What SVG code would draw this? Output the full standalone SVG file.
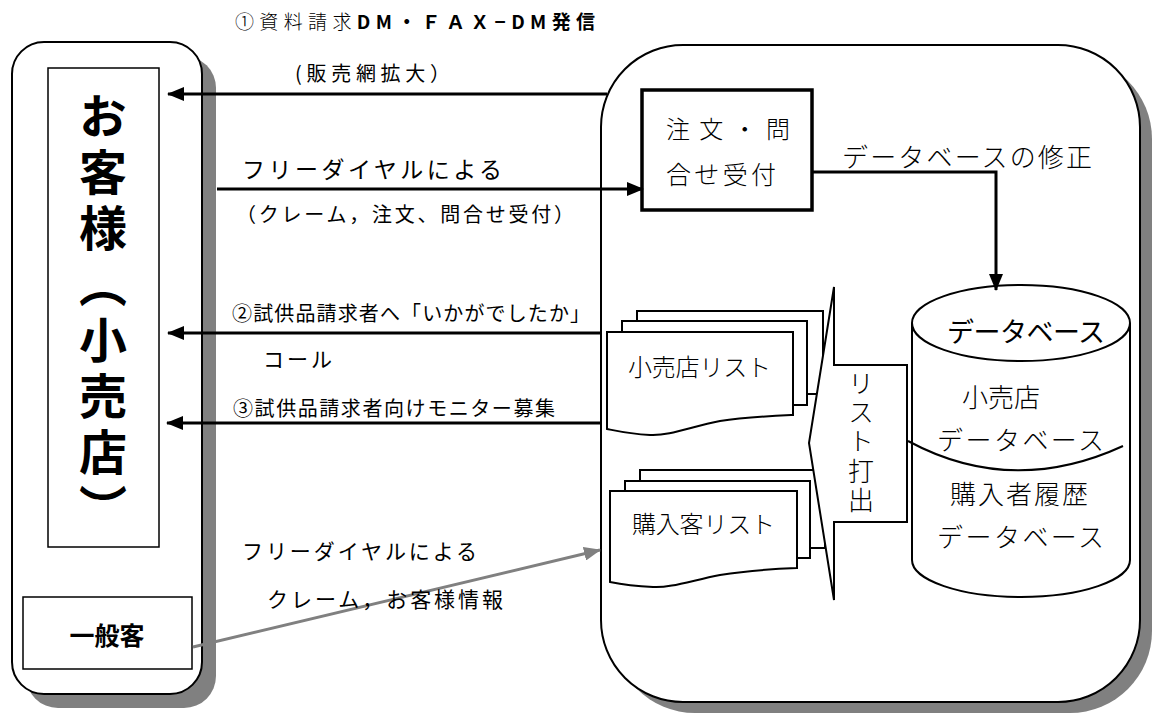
<svg xmlns="http://www.w3.org/2000/svg" width="1155" height="715" viewBox="0 0 1155 715">
<defs>
<style>
text{font-family:"Noto Sans CJK JP","Noto Sans",sans-serif;fill:#000;dominant-baseline:central}
.m{font-weight:300}
.shadow{fill:#808080;stroke:none}
.box{fill:#fff;stroke:#000;stroke-width:2}
.thin{fill:#fff;stroke:#000;stroke-width:1.5}
.conn{fill:none;stroke:#000;stroke-width:3}
.gray{fill:none;stroke:#808080;stroke-width:3}
</style>
<marker id="ah" markerUnits="userSpaceOnUse" markerWidth="17" markerHeight="14" refX="16" refY="7" orient="auto">
<path d="M0,0 L17,7 L0,14 Z" fill="#000"/>
</marker>
<marker id="ahg" markerUnits="userSpaceOnUse" markerWidth="17" markerHeight="14" refX="16" refY="7" orient="auto">
<path d="M0,0 L17,7 L0,14 Z" fill="#808080"/>
</marker>
</defs>
<rect width="1155" height="715" fill="#fff"/>

<g id="customers">
<rect class="shadow" x="26" y="56" width="190" height="652" rx="32"/>
<rect class="box" x="12" y="42" width="190" height="652" rx="32"/>
</g>
<g id="retail">
<rect class="thin" x="48" y="68" width="111" height="479"/>
<text x="103" y="92" style="writing-mode:vertical-rl;letter-spacing:8px" font-size="48" font-weight="bold">お客様（小売店）</text>
</g>
<g id="general">
<rect class="thin" x="23" y="597" width="169" height="72"/>
<text x="107" y="634" font-size="25" font-weight="bold" text-anchor="middle">一般客</text>
</g>

<g id="company">
<rect class="shadow" x="613" y="57" width="539" height="656" rx="82"/>
<rect class="box" x="601" y="45" width="539" height="657" rx="82"/>
</g>

<g id="order">
<rect x="642" y="90" width="170" height="120" fill="#fff" stroke="#000" stroke-width="3.5"/>
<text class="m" x="666" y="127" font-size="24" textLength="124" lengthAdjust="spacing">注文・問</text>
<text class="m" x="666" y="173" font-size="25" textLength="110" lengthAdjust="spacing">合せ受付</text>
</g>

<g id="retail-list">
<rect class="box" x="637" y="311" width="186" height="83"/>
<rect class="box" x="622" y="321" width="185" height="84"/>
<path class="box" d="M607,332 H793 V415 C770,416 745,417 720,421 C690,427 670,436 650,435 C630,434 617,431 607,429 Z"/>
<text class="m" x="628" y="365" font-size="24" textLength="143" lengthAdjust="spacing">小売店リスト</text>
</g>

<g id="buyer-list">
<rect class="box" x="640" y="470" width="185" height="78"/>
<rect class="box" x="625" y="481" width="185" height="77"/>
<path class="box" d="M610,491 H797 V568 C770,569 745,571 720,575 C690,581 670,588 653,587 C633,586 620,584 610,582 Z"/>
<text class="m" x="632" y="522" font-size="24" textLength="143" lengthAdjust="spacing">購入客リスト</text>
</g>

<g id="print">
<polygon class="box" points="834,287 834,365 907,365 907,522 834,522 834,600 809,443"/>
<text class="m" x="861" y="370" font-size="26" style="writing-mode:vertical-rl;letter-spacing:3.3px">リスト打出</text>
</g>

<g id="database">
<path class="box" d="M912,323 V560 A109,37 0 0 0 1130,560 V323"/>
<ellipse class="box" cx="1021" cy="323" rx="109" ry="38"/>
<path d="M908,441 Q1012,497 1123,446" fill="none" stroke="#000" stroke-width="2"/>
<text x="947" y="330" font-size="27" textLength="158" lengthAdjust="spacing">データベース</text>
<text class="m" x="962" y="395" font-size="26" textLength="78" lengthAdjust="spacing">小売店</text>
<text class="m" x="937" y="438" font-size="26" textLength="167" lengthAdjust="spacing">データベース</text>
<text class="m" x="950" y="492" font-size="26" textLength="138" lengthAdjust="spacing">購入者履歴</text>
<text class="m" x="937" y="535" font-size="26" textLength="167" lengthAdjust="spacing">データベース</text>
</g>

<g id="connectors">
<line class="conn" x1="607" y1="94" x2="168" y2="94" marker-end="url(#ah)"/>
<line class="conn" x1="217" y1="189" x2="643" y2="189" marker-end="url(#ah)"/>
<line class="conn" x1="601" y1="333" x2="168" y2="333" marker-end="url(#ah)"/>
<line class="conn" x1="601" y1="423" x2="167" y2="423" marker-end="url(#ah)"/>
<polyline class="conn" points="812,172 996,172 996,290" marker-end="url(#ah)"/>
<line class="gray" x1="193" y1="647" x2="600" y2="550" marker-end="url(#ahg)"/>
</g>

<g id="labels">
<text x="235" y="20" font-size="19" textLength="360" lengthAdjust="spacing"><tspan class="m">①資料請求</tspan><tspan font-weight="bold">DM・ＦＡＸ−DM発信</tspan></text>
<text x="295" y="72" font-size="20" textLength="155" lengthAdjust="spacing">(販売網拡大）</text>
<text x="242" y="168" font-size="23" textLength="260" lengthAdjust="spacing">フリーダイヤルによる</text>
<text x="236" y="213" font-size="20" textLength="338" lengthAdjust="spacing">（クレーム，注文、問合せ受付）</text>
<text x="232" y="312" font-size="20" textLength="358" lengthAdjust="spacing">②試供品請求者へ「いかがでしたか」</text>
<text x="263" y="358" font-size="21" textLength="69" lengthAdjust="spacing">コール</text>
<text x="233" y="407" font-size="20" textLength="322" lengthAdjust="spacing">③試供品請求者向けモニター募集</text>
<text x="242" y="550" font-size="21" textLength="235" lengthAdjust="spacing">フリーダイヤルによる</text>
<text x="267" y="598" font-size="21" textLength="236" lengthAdjust="spacing">クレーム，お客様情報</text>
<text x="842" y="155" font-size="26" class="m" textLength="250" lengthAdjust="spacing">データベースの修正</text>
</g>
</svg>
